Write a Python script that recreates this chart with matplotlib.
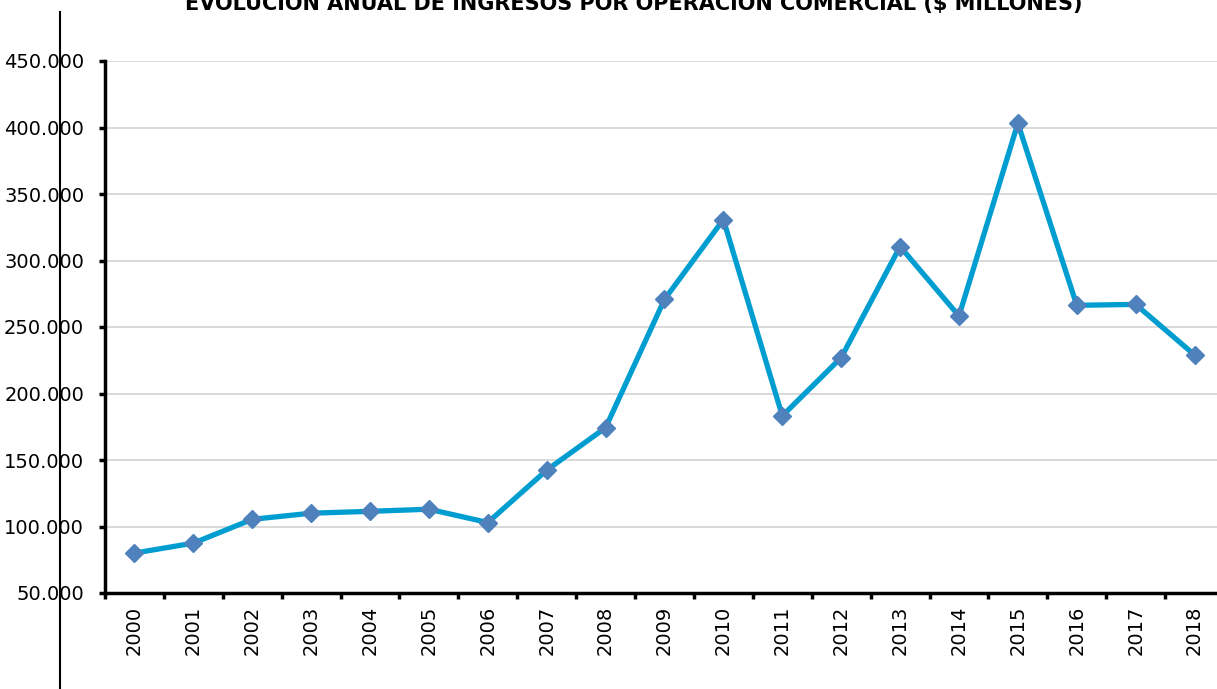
import matplotlib
matplotlib.use("Agg")
import matplotlib.pyplot as plt
from matplotlib.lines import Line2D
from matplotlib.ticker import FuncFormatter, FixedLocator

years = ["2000", "2001", "2002", "2003", "2004", "2005", "2006", "2007", "2008", "2009",
         "2010", "2011", "2012", "2013", "2014", "2015", "2016", "2017", "2018"]
ingresos = [80000, 87500, 105400, 110000, 111400, 113000, 103000, 142400, 174300, 270800,
            330800, 183200, 227000, 310500, 258300, 403200, 266300, 267000, 229000]
y_ticks = [50000, 100000, 150000, 200000, 250000, 300000, 350000, 400000, 450000]
title = "EVOLUCIÓN ANUAL DE INGRESOS POR OPERACIÓN COMERCIAL ($ MILLONES)"

W, H = 1217, 689
fig = plt.figure(figsize=(W / 100, H / 100), dpi=100)
left, right, top, bottom = 105, 1224, 61, 593
ax = fig.add_axes([left / W, 1 - bottom / H, (right - left) / W, (bottom - top) / H])

x = list(range(len(years)))
ax.plot(x, ingresos, color="#009DD1", linewidth=3.8, marker="D", markersize=9.5,
        markerfacecolor="#4F81BD", markeredgecolor="#4F81BD", zorder=3, clip_on=False)

ax.set_xlim(-0.5, len(years) - 0.5)
ax.set_ylim(50000, 450000)
ax.set_yticks(y_ticks)
ax.yaxis.set_major_formatter(FuncFormatter(lambda v, p: f"{int(v):,}".replace(",", ".")))
ax.grid(axis="y", color="#D9D9D9", linewidth=1.4)
ax.set_axisbelow(True)

ax.set_xticks(x)
ax.set_xticklabels(years, rotation=90)
ax.xaxis.set_minor_locator(FixedLocator([i - 0.5 for i in range(len(years) + 1)]))
ax.tick_params(axis="x", which="major", length=0, pad=9, labelsize=14)
ax.tick_params(axis="x", which="minor", length=4.5, width=2.5, direction="out")
ax.tick_params(axis="y", length=4.5, width=2.5, direction="out", pad=10.5, labelsize=14)

for s in ["top", "right"]:
    ax.spines[s].set_visible(False)
for s in ["left", "bottom"]:
    ax.spines[s].set_linewidth(2.5)
    ax.spines[s].set_color("black")

fig.text(634 / W, 1 - 10 / H, title, ha="center", va="baseline", fontsize=15,
         fontweight="bold", family=["Liberation Sans Narrow", "DejaVu Sans"])

fig.add_artist(Line2D([60 / W, 60 / W], [0, 1 - 12 / H], color="black", linewidth=1.5,
                      transform=fig.transFigure))

fig.savefig("out.png", dpi=100)
